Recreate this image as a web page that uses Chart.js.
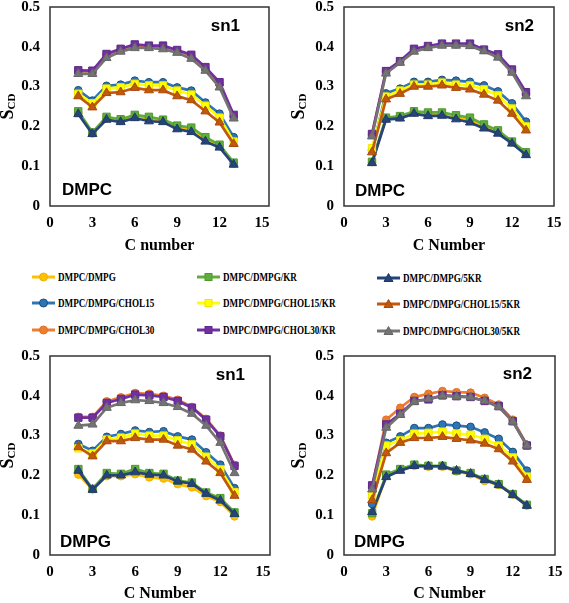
<!DOCTYPE html>
<html>
<head>
<meta charset="utf-8">
<script src="https://cdn.jsdelivr.net/npm/chart.js@4.4.1/dist/chart.umd.min.js"></script>
<style>
    body { margin: 0; background: #fff; }
    #page { position: relative; width: 569px; height: 603px; overflow: hidden; background: #fff; }
    #page canvas { position: absolute; }
    .legend-item { position: absolute; display: flex; align-items: center; height: 14px; }
    .legend-item svg { flex: none; }
    .legend-item span {
        font: bold 12px "Liberation Serif", "Times New Roman", serif;
        color: #000; white-space: nowrap; margin-left: 3px;
        transform: scaleX(0.76); transform-origin: left center;
    }
</style>
</head>
<body>
<div id="page">
    <canvas id="c-dmpc-sn1"></canvas>
    <canvas id="c-dmpc-sn2"></canvas>
    <canvas id="c-dmpg-sn1"></canvas>
    <canvas id="c-dmpg-sn2"></canvas>
    <div id="legend"></div>
</div>
<script>
// carbon positions along the acyl chain
const cNumbers = [2, 3, 4, 5, 6, 7, 8, 9, 10, 11, 12, 13];

// series order (as in the legend, row by row)
const seriesLabels = [
    'DMPC/DMPG', 'DMPC/DMPG/KR', 'DMPC/DMPG/5KR',
    'DMPC/DMPG/CHOL15', 'DMPC/DMPG/CHOL15/KR', 'DMPC/DMPG/CHOL15/5KR',
    'DMPC/DMPG/CHOL30', 'DMPC/DMPG/CHOL30/KR', 'DMPC/DMPG/CHOL30/5KR'
];

const xTicks = [0, 3, 6, 9, 12, 15];
const yTicks = [0, 0.1, 0.2, 0.3, 0.4, 0.5];

// S_CD values, one list per series (same order as seriesLabels)
const dmpcSn1 = [
    [0.234, 0.182, 0.220, 0.214, 0.225, 0.218, 0.214, 0.197, 0.190, 0.167, 0.150, 0.106],
    [0.238, 0.185, 0.224, 0.218, 0.229, 0.224, 0.217, 0.202, 0.197, 0.173, 0.154, 0.109],
    [0.231, 0.181, 0.217, 0.211, 0.221, 0.213, 0.211, 0.193, 0.186, 0.162, 0.147, 0.104],
    [0.291, 0.265, 0.302, 0.305, 0.315, 0.311, 0.311, 0.298, 0.290, 0.260, 0.232, 0.173],
    [0.282, 0.258, 0.295, 0.298, 0.307, 0.303, 0.303, 0.290, 0.280, 0.252, 0.222, 0.162],
    [0.276, 0.248, 0.284, 0.286, 0.297, 0.291, 0.291, 0.276, 0.266, 0.238, 0.210, 0.156],
    [0.338, 0.338, 0.380, 0.392, 0.403, 0.400, 0.400, 0.390, 0.378, 0.345, 0.305, 0.225],
    [0.341, 0.340, 0.382, 0.395, 0.406, 0.403, 0.403, 0.392, 0.380, 0.349, 0.311, 0.229],
    [0.332, 0.332, 0.372, 0.388, 0.397, 0.397, 0.394, 0.385, 0.370, 0.340, 0.298, 0.220]
];

const dmpcSn2 = [
    [0.110, 0.220, 0.223, 0.235, 0.232, 0.232, 0.224, 0.217, 0.200, 0.186, 0.160, 0.132],
    [0.111, 0.222, 0.226, 0.238, 0.235, 0.235, 0.228, 0.222, 0.205, 0.190, 0.162, 0.135],
    [0.108, 0.217, 0.220, 0.232, 0.226, 0.227, 0.218, 0.210, 0.195, 0.182, 0.157, 0.128],
    [0.140, 0.283, 0.295, 0.312, 0.312, 0.317, 0.315, 0.312, 0.303, 0.288, 0.258, 0.212],
    [0.145, 0.275, 0.290, 0.305, 0.305, 0.310, 0.305, 0.303, 0.293, 0.278, 0.245, 0.200],
    [0.135, 0.268, 0.282, 0.300, 0.300, 0.303, 0.297, 0.293, 0.280, 0.265, 0.232, 0.190],
    [0.180, 0.338, 0.363, 0.393, 0.400, 0.407, 0.406, 0.405, 0.392, 0.378, 0.340, 0.282],
    [0.181, 0.339, 0.364, 0.395, 0.402, 0.408, 0.408, 0.408, 0.393, 0.381, 0.343, 0.286],
    [0.175, 0.333, 0.360, 0.388, 0.397, 0.403, 0.403, 0.402, 0.389, 0.373, 0.335, 0.276]
];

const dmpgSn1 = [
    [0.202, 0.165, 0.198, 0.198, 0.203, 0.195, 0.192, 0.178, 0.170, 0.148, 0.133, 0.097],
    [0.216, 0.166, 0.206, 0.204, 0.216, 0.206, 0.204, 0.187, 0.182, 0.157, 0.143, 0.107],
    [0.212, 0.164, 0.200, 0.200, 0.208, 0.202, 0.200, 0.185, 0.179, 0.154, 0.137, 0.103],
    [0.279, 0.262, 0.297, 0.304, 0.313, 0.309, 0.311, 0.298, 0.290, 0.258, 0.227, 0.168],
    [0.268, 0.255, 0.290, 0.295, 0.305, 0.300, 0.300, 0.288, 0.278, 0.247, 0.215, 0.158],
    [0.271, 0.248, 0.286, 0.286, 0.294, 0.290, 0.290, 0.275, 0.265, 0.235, 0.206, 0.149],
    [0.347, 0.347, 0.386, 0.396, 0.407, 0.405, 0.400, 0.390, 0.372, 0.342, 0.300, 0.226],
    [0.345, 0.345, 0.382, 0.392, 0.403, 0.401, 0.397, 0.387, 0.370, 0.340, 0.298, 0.224],
    [0.325, 0.328, 0.370, 0.382, 0.389, 0.387, 0.382, 0.372, 0.355, 0.325, 0.282, 0.206]
];

const dmpgSn2 = [
    [0.097, 0.200, 0.214, 0.224, 0.222, 0.222, 0.210, 0.203, 0.186, 0.176, 0.152, 0.124],
    [0.105, 0.202, 0.216, 0.227, 0.224, 0.224, 0.212, 0.206, 0.191, 0.178, 0.153, 0.126],
    [0.108, 0.196, 0.212, 0.224, 0.223, 0.223, 0.212, 0.204, 0.189, 0.176, 0.151, 0.124],
    [0.128, 0.282, 0.298, 0.319, 0.319, 0.328, 0.325, 0.322, 0.308, 0.292, 0.259, 0.212],
    [0.150, 0.275, 0.288, 0.305, 0.307, 0.310, 0.305, 0.302, 0.292, 0.275, 0.245, 0.197],
    [0.138, 0.256, 0.282, 0.294, 0.294, 0.297, 0.292, 0.288, 0.280, 0.266, 0.235, 0.189],
    [0.170, 0.340, 0.370, 0.397, 0.405, 0.412, 0.409, 0.408, 0.395, 0.378, 0.340, 0.277],
    [0.175, 0.328, 0.355, 0.387, 0.391, 0.401, 0.399, 0.397, 0.387, 0.374, 0.336, 0.275],
    [0.165, 0.320, 0.352, 0.385, 0.392, 0.400, 0.398, 0.396, 0.387, 0.372, 0.335, 0.275]
];

// styling per series
const seriesColors = ['#FFC000', '#62AC3C', '#264478', '#2E75B6', '#FFFF00', '#C0580F', '#ED7D31', '#7030A0', '#747474'];
const markerEdges = ['#F0B000', '#4E9A2C', '#1E3A68', '#1F4E79', '#F2E600', '#A84A0A', '#E07020', '#60288C', '#666666'];
const markerStyles = ['circle', 'rect', 'triangle', 'circle', 'rect', 'triangle', 'circle', 'rect', 'triangle'];
const markerSizes = { circle: 3.8, rect: 5.2, triangle: 5.2 };

const tickFont = { family: '"Liberation Serif", "Times New Roman", serif', size: 15, weight: 'bold' };

// frame round the plot area, axis titles with subscript, panel captions
const panelDecor = {
    id: 'panelDecor',
    afterDraw(chart, args, opts) {
        const { ctx, chartArea: a } = chart;
        ctx.save();
        ctx.strokeStyle = '#333';
        ctx.lineWidth = 1.5;
        ctx.strokeRect(a.left, a.top, a.right - a.left, a.bottom - a.top);

        // S_CD rotated
        ctx.translate(opts.yTitleX, (a.top + a.bottom) / 2);
        ctx.rotate(-Math.PI / 2);
        ctx.fillStyle = '#000';
        ctx.textBaseline = 'middle';
        const bigFont = 'bold 18px "Liberation Serif", serif';
        const smallFont = 'bold 11px "Liberation Serif", serif';
        ctx.font = bigFont;
        const wS = ctx.measureText('S').width;
        ctx.font = smallFont;
        const wCD = ctx.measureText('CD').width;
        let x0 = -(wS + wCD) / 2;
        ctx.font = bigFont;
        ctx.fillText('S', x0, 0);
        ctx.font = smallFont;
        ctx.fillText('CD', x0 + wS, 4);
        ctx.restore();

        ctx.save();
        ctx.fillStyle = '#000';
        ctx.font = 'bold 17px "Liberation Sans", Arial, sans-serif';
        ctx.textBaseline = 'middle';
        opts.captions.forEach(c => {
            ctx.textAlign = c.align;
            ctx.fillText(c.text, c.x, c.y);
        });
        ctx.restore();
    }
};

function makePanel(id, values, box) {
    const canvas = document.getElementById(id);
    canvas.width = box.w;
    canvas.height = box.h;
    canvas.style.left = box.x + 'px';
    canvas.style.top = box.y + 'px';

    const datasets = values.map((vals, i) => ({
        label: seriesLabels[i],
        data: cNumbers.map((c, k) => ({ x: c, y: vals[k] })),
        borderColor: seriesColors[i],
        backgroundColor: seriesColors[i],
        pointBackgroundColor: seriesColors[i],
        pointBorderColor: markerEdges[i],
        pointBorderWidth: 1,
        pointStyle: markerStyles[i],
        pointRadius: markerSizes[markerStyles[i]],
        borderWidth: 2.7,
        order: seriesLabels.length - i,
        tension: 0
    }));

    return new Chart(canvas, {
        type: 'line',
        data: { datasets },
        plugins: [panelDecor],
        options: {
            responsive: false,
            animation: false,
            devicePixelRatio: 1,
            layout: { padding: { top: box.padTop, right: box.padRight, left: 0, bottom: 0 } },
            scales: {
                x: {
                    type: 'linear',
                    min: 0,
                    max: box.xMax,
                    grid: { display: false, drawTicks: false },
                    border: { display: false },
                    afterBuildTicks: s => { s.ticks = xTicks.map(v => ({ value: v })); },
                    afterFit: s => { s.height = box.xAxisH; s.paddingLeft = 0; s.paddingRight = 0; },
                    ticks: { font: tickFont, color: '#000', padding: 8, maxRotation: 0, autoSkip: false },
                    title: {
                        display: true,
                        text: box.xTitle,
                        color: '#000',
                        font: { family: tickFont.family, size: 16, weight: 'bold' },
                        padding: { top: 0, bottom: box.titlePad }
                    }
                },
                y: {
                    min: 0,
                    max: 0.5,
                    grid: { display: false, drawTicks: false },
                    border: { display: false },
                    afterBuildTicks: s => { s.ticks = yTicks.map(v => ({ value: v })); },
                    afterFit: s => { s.width = box.yAxisW; s.paddingTop = 0; s.paddingBottom = 0; },
                    ticks: {
                        font: tickFont, color: '#000', padding: 10,
                        callback: v => (v === 0 ? '0' : v.toFixed(1))
                    }
                }
            },
            plugins: {
                legend: { display: false },
                tooltip: { enabled: false },
                panelDecor: { yTitleX: box.yTitleX, captions: box.captions }
            }
        }
    });
}

makePanel('c-dmpc-sn1', dmpcSn1, {
    x: 0, y: 0, w: 285, h: 255, padTop: 7, padRight: 16, xAxisH: 49, yAxisW: 50, xMax: 15.5,
    xTitle: 'C number', titlePad: 0, yTitleX: 8,
    captions: [{ text: 'sn1', x: 240, y: 26, align: 'right' }, { text: 'DMPC', x: 62, y: 190, align: 'left' }]
});
makePanel('c-dmpc-sn2', dmpcSn2, {
    x: 285, y: 0, w: 284, h: 255, padTop: 7, padRight: 15, xAxisH: 49, yAxisW: 59, xMax: 15,
    xTitle: 'C Number', titlePad: 0, yTitleX: 14,
    captions: [{ text: 'sn2', x: 249, y: 26, align: 'right' }, { text: 'DMPC', x: 70, y: 191, align: 'left' }]
});
makePanel('c-dmpg-sn1', dmpgSn1, {
    x: 0, y: 340, w: 285, h: 263, padTop: 16, padRight: 15, xAxisH: 48, yAxisW: 50, xMax: 15.5,
    xTitle: 'C Number', titlePad: 0, yTitleX: 8,
    captions: [{ text: 'sn1', x: 245, y: 35, align: 'right' }, { text: 'DMPG', x: 60, y: 202, align: 'left' }]
});
makePanel('c-dmpg-sn2', dmpgSn2, {
    x: 285, y: 340, w: 284, h: 263, padTop: 16, padRight: 14, xAxisH: 48, yAxisW: 59, xMax: 15,
    xTitle: 'C Number', titlePad: 0, yTitleX: 14,
    captions: [{ text: 'sn2', x: 247, y: 34, align: 'right' }, { text: 'DMPG', x: 69, y: 202, align: 'left' }]
});

// legend: three columns, row by row
const legendCols = [32, 197, 377];
const legendRows = [277, 303, 330];
const legendEl = document.getElementById('legend');

function markerSvg(i) {
    const c = seriesColors[i];
    const e = markerEdges[i];
    let m;
    if (markerStyles[i] === 'circle') m = `<circle cx="11.5" cy="7" r="4" fill="${c}" stroke="${e}" stroke-width="1"/>`;
    else if (markerStyles[i] === 'rect') m = `<rect x="8" y="3.5" width="7" height="7" fill="${c}" stroke="${e}" stroke-width="1"/>`;
    else m = `<polygon points="11.5,2.5 16,10.5 7,10.5" fill="${c}" stroke="${e}" stroke-width="1"/>`;
    return `<svg width="23" height="14" viewBox="0 0 23 14"><line x1="0" y1="7" x2="23" y2="7" stroke="${c}" stroke-width="3"/>${m}</svg>`;
}

seriesLabels.forEach((label, i) => {
    const row = Math.floor(i / 3);
    const col = i % 3;
    const item = document.createElement('div');
    item.className = 'legend-item';
    item.style.left = legendCols[col] + 'px';
    item.style.top = (legendRows[row] - 7 + (col === 2 ? 1 : 0)) + 'px';
    item.innerHTML = markerSvg(i) + `<span>${label}</span>`;
    legendEl.appendChild(item);
});
</script>
</body>
</html>
